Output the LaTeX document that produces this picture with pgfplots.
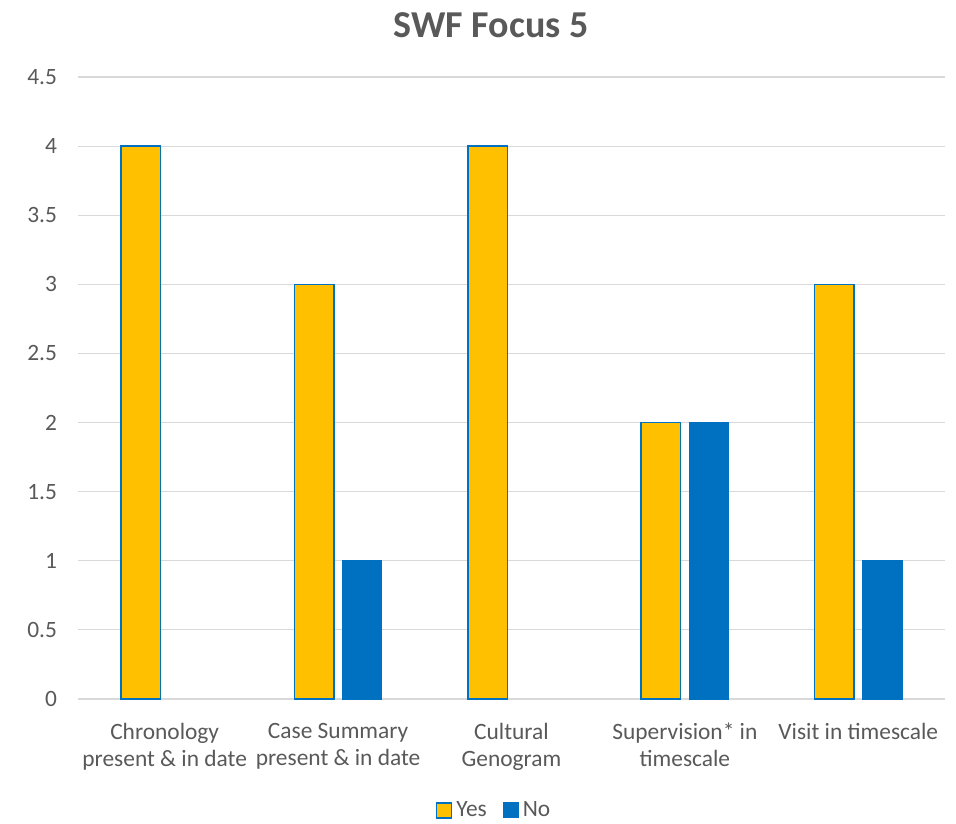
\documentclass[border=0pt]{standalone}
\usepackage{fontspec}
\setmainfont{Carlito}
\usepackage{pgfplots}
\pgfplotsset{compat=1.18}
\definecolor{yesc}{HTML}{FFC000}
\definecolor{noc}{HTML}{0070C0}
\definecolor{gridc}{HTML}{D9D9D9}
\definecolor{txt}{HTML}{595959}
\begin{document}
\begin{tikzpicture}
\path[use as bounding box] (-39pt,-62pt) rectangle (439pt,349.5pt);
\begin{axis}[
  at={(0,0)}, anchor=south west,
  scale only axis, width=433.5pt, height=311pt,
  ymin=0, ymax=4.5, ytick={0,0.5,...,4.5},
  xmin=-0.5, xmax=4.5,
  xtick={0,1,2,3,4},
  xticklabels={{Chronology\\present \& in date},{Case Summary\\present \& in date},{Cultural\\Genogram},{Supervision* in\\timescale},{Visit in timescale}},
  xticklabel style={align=center, font=\fontsize{11.7}{13.5}\selectfont, text=txt, yshift=-8.5pt},
  yticklabel style={font=\fontsize{11.7}{14}\selectfont, text=txt, xshift=-7pt},
  /pgf/number format/assume math mode=true,
  yticklabel={\pgfmathprintnumber[fixed,precision=1]{\tick}},
  major tick length=0pt, tick style={draw=none},
  axis line style={draw=none},
  ymajorgrids, grid style={gridc, line width=0.6pt},
  title={SWF Focus 5},
  title style={at={(axis description cs:0.4764,1.0643)}, anchor=center, font=\fontsize{19}{22}\selectfont\bfseries, text=txt},
  legend style={at={(axis description cs:0.481,-0.179)}, anchor=center, draw=none, fill=none, inner sep=1pt, font=\fontsize{11.7}{14}\selectfont, text=txt, /tikz/every even column/.append style={column sep=6pt}},
  legend columns=-1,
  legend image code/.code={\draw[#1] (0pt,-3.75pt) rectangle (7.5pt,3.75pt);},
]
\addplot[ybar, bar width=19.75pt, bar shift=-12pt, fill=yesc, draw=noc, line width=0.75pt] coordinates {(0,4) (1,3) (2,4) (3,2) (4,3)};
\addlegendentry{Yes}
\addplot[ybar, bar width=19.75pt, bar shift=12pt, fill=noc, draw=noc, line width=0.5pt] coordinates {(1,1) (3,2) (4,1)};
\addlegendentry{No}
\end{axis}
\end{tikzpicture}
\end{document}
